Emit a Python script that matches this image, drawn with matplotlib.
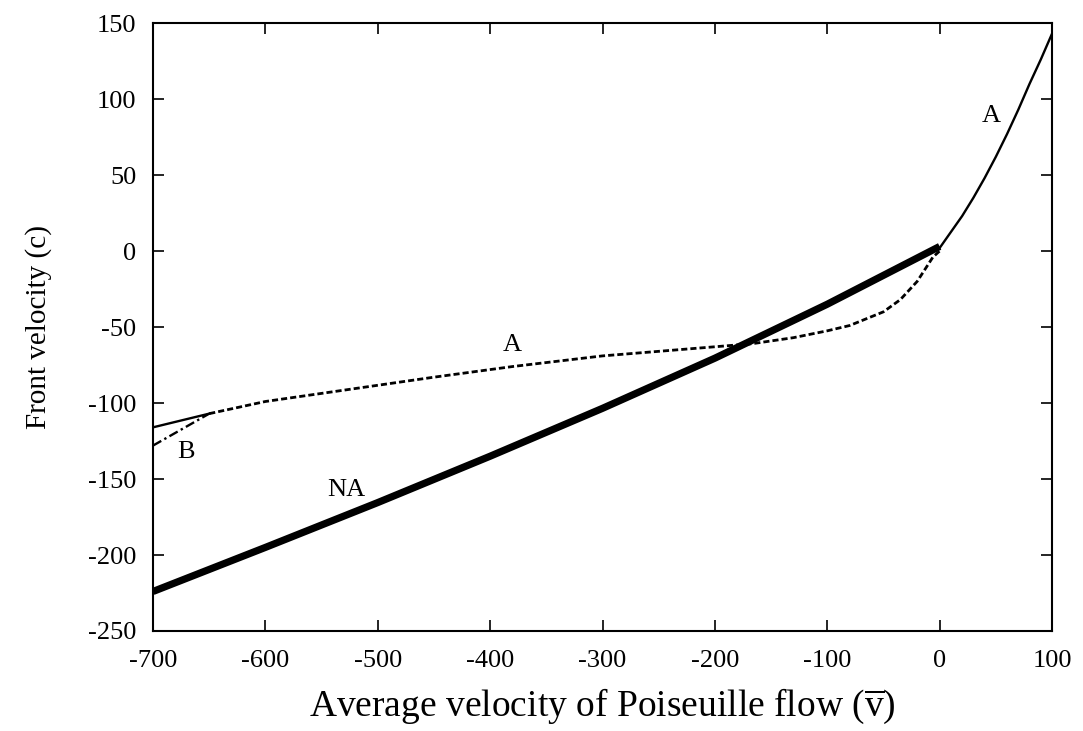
import matplotlib
matplotlib.use("Agg")
import matplotlib.pyplot as plt

plt.rcParams["font.family"] = ["Liberation Serif", "DejaVu Serif"]
plt.rcParams["mathtext.fontset"] = "custom"
plt.rcParams["mathtext.rm"] = "Liberation Serif"
plt.rcParams["axes.unicode_minus"] = False

# non-axisymmetric branch (thick)
na_x = [-700, -600, -500, -400, -300, -200, -100, 0]
na_y = [-224, -195, -165.5, -135, -103.5, -70.5, -35, 3]

# axisymmetric branch, negative flow (dashed)
a_x = [-650, -600, -525, -450, -380, -300, -250, -200, -167, -130, -100, -80, -50, -35, -20, -6, 0]
a_y = [-107, -99, -91, -83, -76, -69, -66, -63, -61, -57, -52.5, -49, -40, -32, -20, -4, 0]

# axisymmetric branch, positive flow
a2_x = [0, 10, 20, 30, 40, 50, 60, 70, 80, 90, 100]
a2_y = [2, 12.5, 23, 35, 48, 62, 77, 93, 110, 126, 143]

# solid continuation at left
s_x = [-700, -650]
s_y = [-116, -107]

# B branch (dash-dot)
b_x = [-700, -650]
b_y = [-128, -107]

fig = plt.figure(figsize=(10.83, 7.31), dpi=100)
ax = fig.add_axes([0.1413, 0.1368, 0.8301, 0.8317])

ax.plot(na_x, na_y, c="black", lw=5.2, solid_capstyle="butt")
ax.plot(a_x, a_y, c="black", lw=2.0, dashes=(2.2, 1.1))
ax.plot(a2_x, a2_y, c="black", lw=1.7)
ax.plot(s_x, s_y, c="black", lw=1.7)
ax.plot(b_x, b_y, c="black", lw=1.7, dashes=(4, 1.5, 1, 1.5))

ax.text(45.5, 89, "A", fontsize=19, ha="center", va="center")
ax.text(-380, -62, "A", fontsize=19, ha="center", va="center")
ax.text(-528, -157, "NA", fontsize=19, ha="center", va="center")
ax.text(-671, -132, "B", fontsize=19, ha="center", va="center")

ax.set_xlim(-700, 100)
ax.set_ylim(-250, 150)
ax.set_xticks(range(-700, 101, 100))
ax.set_yticks(range(-250, 151, 50))
ax.tick_params(direction="in", top=True, right=True, length=8, width=1.2,
               labelsize=19)
ax.tick_params(axis="x", pad=14)
ax.tick_params(axis="y", pad=12)
for sp in ax.spines.values():
    sp.set_linewidth(1.5)

ax.set_xlabel(r"Average velocity of Poiseuille flow ($\overline{\mathrm{v}}$)", fontsize=27, labelpad=10)
ax.set_ylabel("Front velocity (c)", fontsize=21, labelpad=26)

fig.savefig("out.png", dpi=100)
